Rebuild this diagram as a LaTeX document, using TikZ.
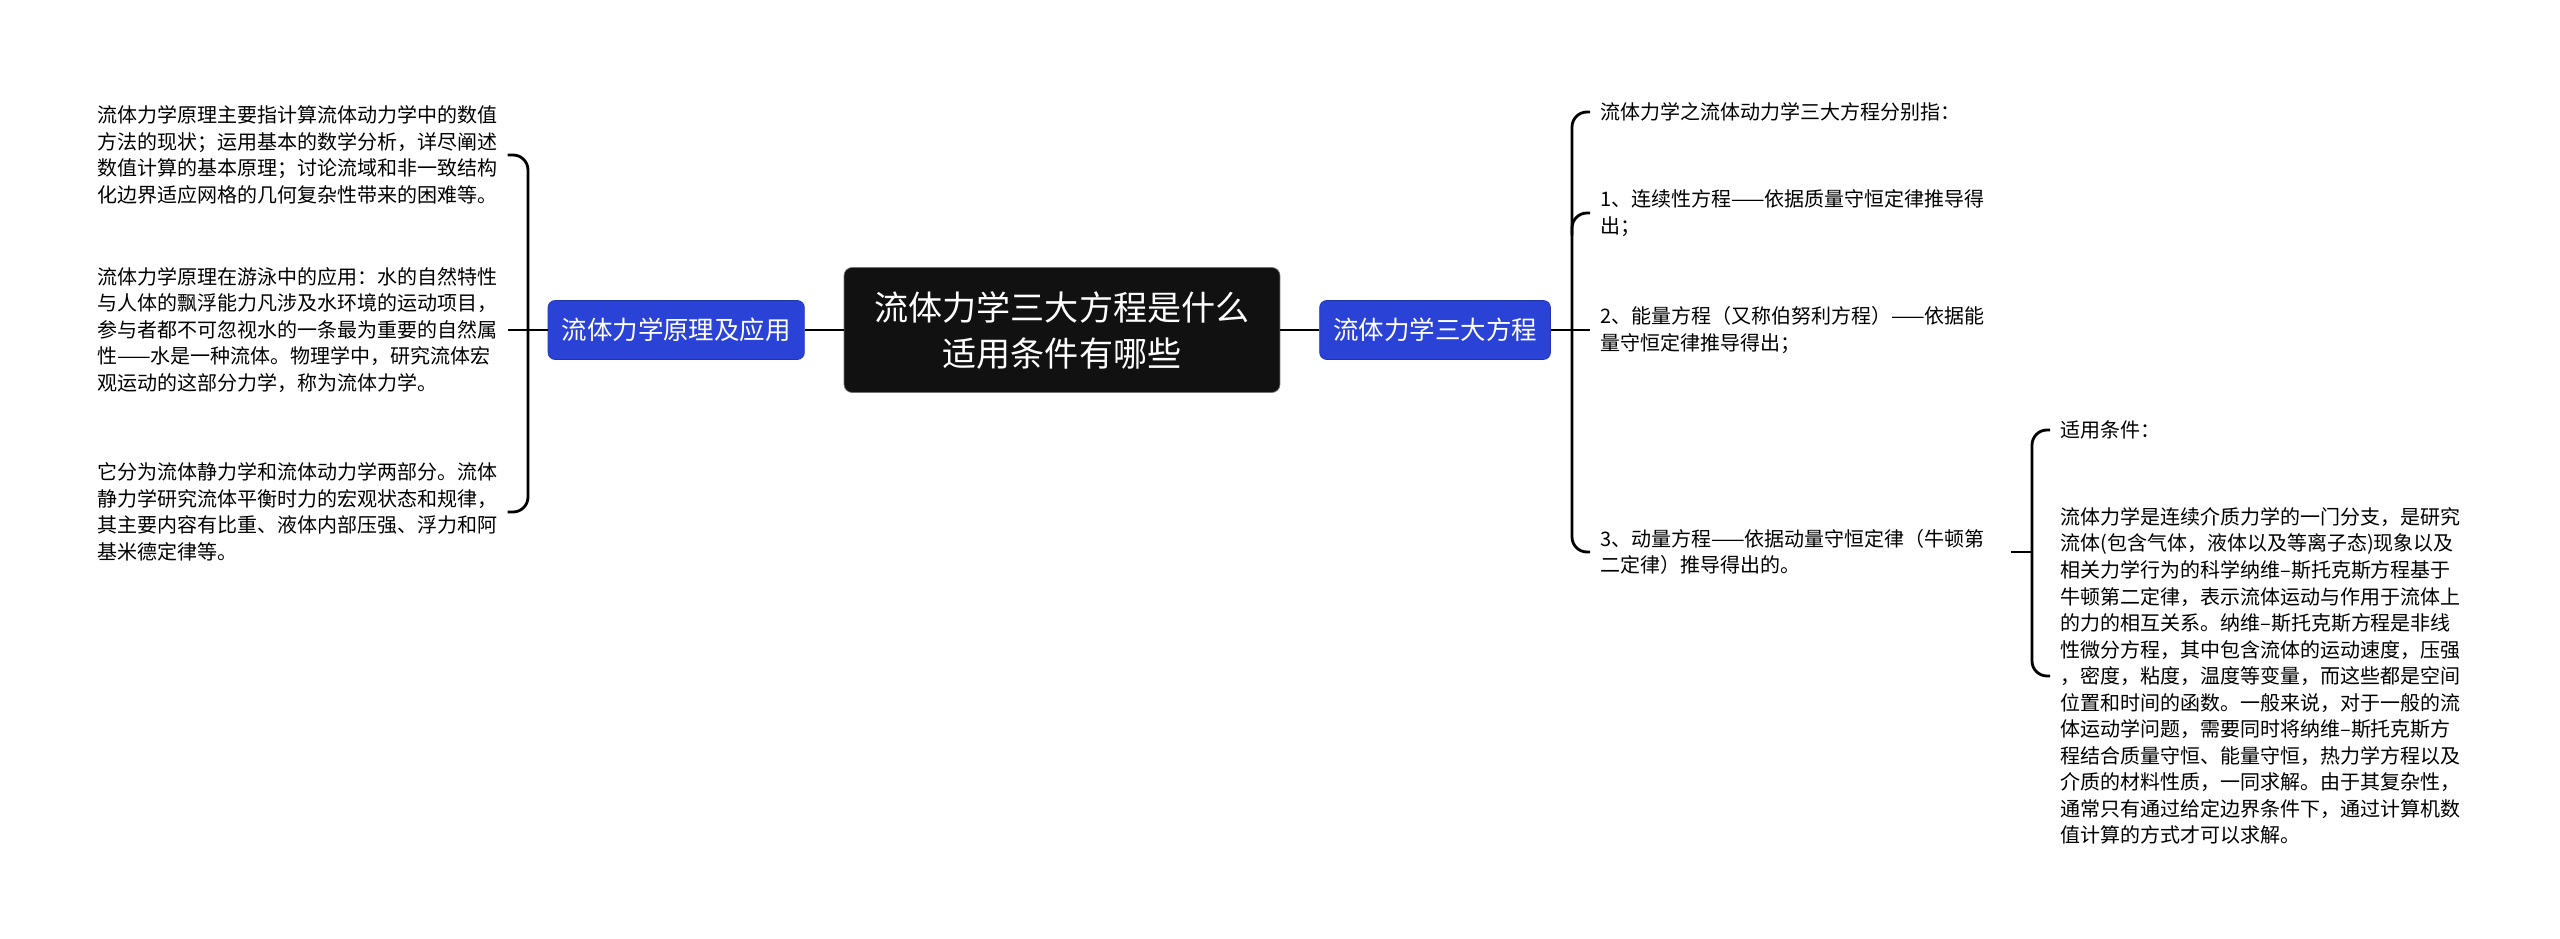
\documentclass[tikz,border=0pt]{standalone}
\usepackage{fontspec}
\usepackage{xcolor}
\usepackage{tikz}
\usetikzlibrary{positioning, calc}
\newfontfamily\cjk{Noto Sans CJK SC}
\definecolor{rootcolor}{RGB}{17,17,17}
\definecolor{topiccolor}{RGB}{42,67,214}

\begin{document}
\begin{tikzpicture}[x=0.02cm, y=-0.02cm,
    root/.style={draw=black!55, fill=rootcolor, rounded corners=0.16cm, text=white,
                 minimum width=8.72cm, minimum height=2.5cm, align=center,
                 font=\cjk\fontsize{19.4pt}{26.2pt}\selectfont},
    topic/.style={draw=topiccolor!80!black, fill=topiccolor, rounded corners=0.14cm, text=white,
                  inner xsep=0.27cm, minimum height=1.18cm, font=\cjk\fontsize{14.5pt}{17pt}\selectfont},
    leaf/.style={anchor=west, text width=8cm, align=left, inner xsep=0.2cm, inner ysep=0.08cm,
                 font=\cjk\fontsize{11.38pt}{15.1pt}\selectfont},
    link/.style={line width=1.6pt},
    brace/.style={line width=1.6pt, rounded corners=0.3cm}
]
\useasboundingbox (0,0) rectangle (2560,939);

% ---- Centre ----
\node[root] (root) at (1062,330) {流体力学三大方程是什么\\适用条件有哪些};
\node[topic, left=0.78cm of root]  (lft) {流体力学原理及应用};
\node[topic, right=0.78cm of root] (rgt) {流体力学三大方程};
\draw[link] (root) -- (lft);
\draw[link] (root) -- (rgt);

% ---- Left branch ----
\node[leaf] (l1) at (87,155) {流体力学原理主要指计算流体动力学中的数值\\方法的现状；运用基本的数学分析，详尽阐述\\数值计算的基本原理；讨论流域和非一致结构\\化边界适应网格的几何复杂性带来的困难等。};
\node[leaf] (l2) at (87,330) {流体力学原理在游泳中的应用：水的自然特性\\与人体的飘浮能力凡涉及水环境的运动项目，\\参与者都不可忽视水的一条最为重要的自然属\\性——水是一种流体。物理学中，研究流体宏\\观运动的这部分力学，称为流体力学。};
\node[leaf] (l3) at (87,512) {它分为流体静力学和流体动力学两部分。流体\\静力学研究流体平衡时力的宏观状态和规律，\\其主要内容有比重、液体内部压强、浮力和阿\\基米德定律等。};
\coordinate (lbus) at (528,330);
\draw[brace] (l1.east) -| (lbus) |- (l3.east);
\draw[link] (l2.east) -- (lft.west);

% ---- Right branch ----
\node[leaf] (r1) at (1590,112) {流体力学之流体动力学三大方程分别指：};
\node[leaf] (r2) at (1590,213) {1、连续性方程——依据质量守恒定律推导得\\出；};
\node[leaf] (r3) at (1590,330) {2、能量方程（又称伯努利方程）——依据能\\量守恒定律推导得出；};
\node[leaf] (r4) at (1590,552) {3、动量方程——依据动量守恒定律（牛顿第\\二定律）推导得出的。};
\coordinate (rbus) at (1572,330);
\draw[brace] (r1.west) -| (rbus) |- (r4.west);
\draw[brace] (r2.west) -| ($(rbus |- r2.west)+(0,-0.45cm)$);
\draw[link] (rgt.east) -- (r3.west);

% ---- Sub branch ----
\node[leaf] (s1) at (2050,430) {适用条件：};
\node[leaf] (s2) at (2050,676) {流体力学是连续介质力学的一门分支，是研究\\流体(包含气体，液体以及等离子态)现象以及\\相关力学行为的科学纳维–斯托克斯方程基于\\牛顿第二定律，表示流体运动与作用于流体上\\的力的相互关系。纳维–斯托克斯方程是非线\\性微分方程，其中包含流体的运动速度，压强\\，密度，粘度，温度等变量，而这些都是空间\\位置和时间的函数。一般来说，对于一般的流\\体运动学问题，需要同时将纳维–斯托克斯方\\程结合质量守恒、能量守恒，热力学方程以及\\介质的材料性质，一同求解。由于其复杂性，\\通常只有通过给定边界条件下，通过计算机数\\值计算的方式才可以求解。};
\coordinate (sbus) at (2032,552);
\draw[brace] (s1.west) -| (sbus) |- (s2.west);
\draw[link] (r4.east) -- (sbus);

\end{tikzpicture}
\end{document}
